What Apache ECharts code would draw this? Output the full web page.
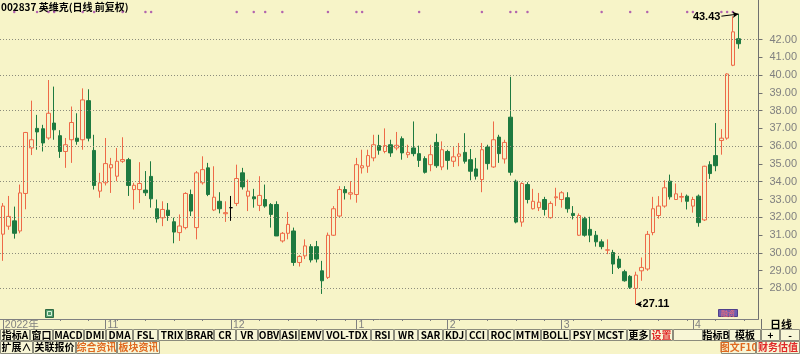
<!DOCTYPE html>
<html>
<head>
<meta charset="utf-8">
<script src="https://cdn.jsdelivr.net/npm/echarts@6/dist/echarts.min.js"></script>
<style>
  html, body { margin: 0; padding: 0; background: #F7F4C8; }
  #chart { width: 800px; height: 354px; }
</style>
</head>
<body>
<div id="chart"></div>
<script>
// 日线 K 线: [开, 收, 低, 高]
const candles = [
  [31.05, 32.63, 29.55, 32.80], [31.50, 32.05, 31.30, 33.20], [31.80, 31.10, 30.80, 32.60], [31.23, 33.37, 31.10, 33.84],
  [33.34, 36.77, 32.45, 36.80], [35.90, 36.36, 35.50, 38.56], [37.00, 36.80, 35.80, 37.76], [36.98, 36.18, 35.70, 37.20],
  [36.46, 37.85, 36.36, 39.72], [37.30, 36.92, 36.36, 39.35], [36.59, 35.70, 35.34, 36.90], [35.70, 36.08, 34.78, 36.46],
  [36.36, 37.33, 35.06, 38.23], [36.45, 36.27, 36.08, 37.85], [36.36, 38.60, 35.80, 39.25], [38.56, 36.45, 36.27, 39.20],
  [35.76, 33.79, 33.56, 36.64], [33.47, 33.94, 33.10, 34.50], [33.94, 35.02, 33.79, 36.46], [34.78, 34.96, 33.37, 35.34],
  [34.31, 35.15, 34.03, 35.90], [35.15, 35.25, 35.06, 36.50], [35.24, 33.79, 33.20, 35.34], [33.56, 33.80, 32.44, 33.94],
  [33.56, 33.90, 32.80, 35.10], [33.53, 33.38, 33.20, 34.60], [34.30, 33.04, 32.54, 35.15], [32.48, 31.92, 31.70, 33.00],
  [31.97, 32.44, 31.50, 32.90], [32.40, 32.10, 31.80, 32.80], [31.75, 31.17, 30.54, 31.98], [31.14, 31.51, 30.67, 32.16],
  [31.42, 33.34, 31.32, 33.41], [33.28, 32.35, 32.07, 33.56], [31.42, 34.50, 30.76, 34.60], [33.94, 34.68, 33.84, 35.43],
  [34.78, 33.28, 33.19, 35.06], [32.41, 33.13, 32.35, 34.87], [32.90, 32.48, 32.22, 33.41], [32.20, 32.26, 31.74, 32.90],
  [32.54, 32.54, 31.80, 33.20], [32.78, 34.18, 32.63, 34.96], [34.50, 33.71, 33.56, 34.78], [33.19, 33.47, 32.35, 34.12],
  [33.15, 33.04, 32.54, 33.60], [32.67, 33.23, 32.35, 34.31], [33.00, 32.63, 32.54, 33.84], [32.72, 32.16, 31.42, 32.80],
  [32.72, 30.95, 30.95, 32.90], [30.67, 31.10, 30.58, 31.17], [31.10, 31.60, 30.76, 32.30], [31.23, 29.46, 29.27, 31.42],
  [29.46, 29.80, 29.23, 29.87], [29.83, 30.39, 29.65, 30.76], [30.35, 29.60, 29.46, 30.49], [30.35, 29.65, 29.46, 30.67],
  [28.99, 28.43, 27.69, 29.55], [28.62, 30.99, 28.53, 31.14], [30.99, 32.48, 30.95, 32.63], [32.07, 33.56, 31.97, 33.75],
  [33.56, 33.38, 33.00, 33.75], [33.30, 33.38, 33.00, 34.03], [33.28, 34.96, 32.82, 35.34], [34.78, 34.90, 34.46, 35.80],
  [34.87, 35.47, 34.50, 35.80], [35.34, 36.08, 35.15, 36.64], [36.03, 35.77, 35.52, 36.64], [35.70, 36.03, 35.60, 37.00],
  [36.08, 35.62, 35.40, 36.36], [35.90, 36.05, 35.77, 36.80], [36.42, 35.62, 35.24, 36.55], [35.52, 35.65, 35.34, 36.08],
  [35.90, 35.58, 35.43, 37.39], [35.58, 35.20, 34.83, 36.03], [35.30, 34.53, 34.46, 35.43], [34.96, 35.52, 34.59, 36.08],
  [36.21, 34.90, 34.78, 36.70], [34.83, 35.80, 34.65, 36.27], [35.70, 35.20, 34.68, 35.80], [35.15, 35.40, 34.83, 35.95],
  [35.43, 35.56, 34.87, 36.18], [35.65, 35.15, 35.02, 36.73], [35.24, 34.59, 34.08, 35.84], [34.72, 34.31, 34.12, 35.34],
  [34.12, 35.80, 33.41, 36.18], [35.95, 35.02, 34.68, 36.08], [34.83, 36.36, 34.78, 37.39], [36.51, 35.58, 35.06, 36.64],
  [35.28, 36.21, 35.02, 36.36], [37.63, 34.53, 34.35, 39.90], [34.03, 31.73, 31.66, 34.12], [31.73, 33.90, 31.47, 33.97],
  [33.84, 33.00, 32.78, 33.97], [32.48, 32.90, 32.44, 33.60], [32.54, 32.85, 32.35, 33.37], [33.00, 32.44, 32.10, 33.15],
  [31.98, 32.78, 31.92, 32.90], [33.10, 33.15, 32.63, 33.66], [33.00, 33.38, 32.54, 33.47], [33.10, 32.48, 32.26, 33.41],
  [32.22, 32.10, 31.88, 32.63], [30.99, 32.10, 30.95, 32.22], [31.92, 30.99, 30.91, 32.03], [31.32, 30.99, 30.60, 32.03],
  [30.99, 30.62, 30.35, 31.23], [30.62, 30.35, 30.20, 30.76], [30.15, 30.17, 29.93, 30.76], [30.02, 29.37, 28.81, 30.17],
  [29.65, 29.18, 29.09, 29.83], [28.94, 28.43, 28.38, 29.05], [28.68, 28.06, 27.97, 28.75], [28.00, 28.75, 27.11, 28.94],
  [28.99, 29.18, 28.43, 29.74], [29.09, 31.04, 28.99, 31.23], [31.14, 32.48, 30.99, 33.15], [32.10, 32.63, 31.92, 33.19],
  [32.63, 33.66, 32.54, 34.08], [34.03, 33.15, 33.00, 34.40], [33.00, 33.32, 32.97, 33.90], [33.13, 33.17, 32.85, 33.38],
  [33.19, 32.90, 32.44, 33.28], [32.63, 33.00, 32.26, 33.15], [33.19, 31.70, 31.47, 33.28], [31.85, 34.87, 31.79, 34.90],
  [34.96, 34.46, 34.16, 35.15], [35.47, 34.90, 34.59, 37.30], [36.32, 36.45, 35.52, 36.96], [36.45, 40.06, 36.36, 40.10],
  [40.55, 42.43, 40.50, 43.30], [42.04, 41.76, 41.48, 43.43]
];

// 平盘十字线（黑色）
const blackDoji = [40];

// 月份分隔
const monthStartIdx = [0, 18, 40, 62, 78, 98, 121];
const monthLabels = ['2022年', '11', '12', '1', '2', '3', '4'];

// 顶部信息地雷
const mineIdx = [2, 6, 8, 9, 14, 16, 21, 25, 26, 41, 44, 46, 49, 57, 62, 63, 73, 84, 89, 90, 92,
                 105, 110, 113, 120, 121, 126, 127, 128];

// 右侧价格刻度
const priceTicks = [28, 29, 30, 31, 32, 33, 34, 35, 36, 37, 38, 39, 40, 41, 42];
const gridPrices = [28, 30, 32, 34, 36, 38, 40, 42];

const emptySlots = 3;
const yMin = 26.28;
const yMax = 44.22;
const mineRow = 43.55;

const BG = '#F7F4C8';
const UP = '#EE6A48';
const DOWN = '#1E7A40';
const FONT = '"Liberation Sans", "Noto Sans CJK SC", sans-serif';
const BTN_FONT = 'bold 10px "Noto Sans CJK SC", sans-serif';

const categories = Array.from({ length: candles.length + emptySlots }, (_, i) => i);

// 最高 / 最低
let hiIdx = 0, loIdx = 0;
candles.forEach((c, i) => {
  if (c[3] > candles[hiIdx][3]) hiIdx = i;
  if (c[2] < candles[loIdx][2]) loIdx = i;
});
const hiVal = candles[hiIdx][3];
const loVal = candles[loIdx][2];

const kData = candles.map((c, i) => {
  if (blackDoji.includes(i)) {
    return {
      value: c,
      itemStyle: { color: '#000', color0: '#000', borderColor: '#000', borderColor0: '#000', borderColorDoji: '#000' }
    };
  }
  return c;
});

// 底部按钮条
const btnRowA = [
  ['指标A', 0, 30], ['窗口', 30, 23], ['MACD', 53, 31], ['DMI', 84, 22], ['DMA', 106, 27], ['FSL', 133, 25],
  ['TRIX', 158, 28], ['BRAR', 186, 28], ['CR', 214, 22], ['VR', 236, 22], ['OBV', 258, 22], ['ASI', 280, 19],
  ['EMV', 299, 24], ['VOL-TDX', 323, 48], ['RSI', 371, 23], ['WR', 394, 24], ['SAR', 418, 25], ['KDJ', 443, 23],
  ['CCI', 466, 22], ['ROC', 488, 26], ['MTM', 514, 27], ['BOLL', 541, 29], ['PSY', 570, 24], ['MCST', 594, 33],
  ['更多', 627, 23], ['设置', 650, 23], ['', 673, 30], ['指标B', 703, 26], ['模板', 729, 32],
  ['+', 761, 19], ['-', 780, 20]
];
const btnRowB = [
  ['扩展∧', 0, 33, '#000'], ['关联报价', 33, 43, '#000'], ['综合资讯', 76, 41, '#E06A20'], ['板块资讯', 117, 43, '#E06A20'],
  ['图文F10', 721, 35, '#E06A20'], ['财务估值', 756, 44, '#E02828']
];

const graphics = [];
// 标题
graphics.push({
  type: 'text', left: 1, top: 2, silent: true,
  style: { text: '002837 英维克(日线 前复权)', fill: '#000', font: 'bold 10px "Noto Sans CJK SC", sans-serif' }
});
// 右栏竖线与 日线
graphics.push({ type: 'line', silent: true, shape: { x1: 761.5, y1: 319, x2: 761.5, y2: 329 }, style: { stroke: '#707070', lineWidth: 1 } });
graphics.push({
  type: 'text', left: 770, top: 319, silent: true,
  style: { text: '日线', fill: '#000', font: 'bold 11px "Noto Sans CJK SC", sans-serif' }
});
btnRowA.forEach(([t, x, w]) => {
  graphics.push({
    type: 'rect', silent: true,
    shape: { x: x + 0.5, y: 329.5, width: w - 1, height: 11 },
    style: { fill: '#F8F6D6', stroke: '#8C8C7C', lineWidth: 1 }
  });
  if (t) {
    graphics.push({
      type: 'text', silent: true, x: x + w / 2, y: 335,
      style: {
        text: t, fill: t === '设置' ? '#E02828' : '#000', align: 'center', verticalAlign: 'middle', font: BTN_FONT
      }
    });
  }
});
btnRowB.forEach(([t, x, w, c]) => {
  graphics.push({
    type: 'rect', silent: true,
    shape: { x: x + 0.5, y: 341.5, width: w - 1, height: 12 },
    style: { fill: '#F8F6D6', stroke: '#8C8C7C', lineWidth: 1 }
  });
  graphics.push({
    type: 'text', silent: true, x: x + w / 2, y: 347.5,
    style: { text: t, fill: c, align: 'center', verticalAlign: 'middle', font: BTN_FONT }
  });
});
// 小图标
graphics.push({ type: 'rect', silent: true, shape: { x: 45.5, y: 309.5, width: 8, height: 8 }, style: { fill: '#4E9A6A', stroke: '#2E6A44' } });
graphics.push({ type: 'rect', silent: true, shape: { x: 47.5, y: 311.5, width: 4, height: 4 }, style: { fill: 'none', stroke: '#D8F0D8' } });
graphics.push({ type: 'rect', silent: true, shape: { x: 718.5, y: 309.5, width: 19, height: 7 }, style: { fill: '#6E5EB0', stroke: '#50408A' } });
graphics.push({
  type: 'text', silent: true, x: 728, y: 313,
  style: { text: '融资', fill: '#FF7070', align: 'center', verticalAlign: 'middle', font: '7px "Noto Sans CJK SC", sans-serif' }
});

const chart = echarts.init(document.getElementById('chart'));

chart.setOption({
  animation: false,
  backgroundColor: BG,
  grid: { left: -1, right: 39, top: 0, bottom: 35 },
  xAxis: [
    {
      type: 'category',
      data: categories,
      boundaryGap: true,
      axisLine: { show: true, lineStyle: { color: '#808080', width: 1 } },
      axisTick: {
        show: true, alignWithLabel: true, length: 10,
        interval: (i) => monthStartIdx.includes(i),
        lineStyle: { color: '#808080' }
      },
      axisLabel: {
        show: true, margin: 1, align: 'left', padding: [0, 0, 0, 2],
        interval: (i) => monthStartIdx.includes(i),
        formatter: (v, i) => monthLabels[monthStartIdx.indexOf(i)] || '',
        color: '#808080', fontSize: 10.5, fontFamily: FONT
      },
      splitLine: { show: false }
    },
    {
      type: 'category',
      data: categories,
      position: 'bottom',
      boundaryGap: true,
      axisLine: { show: false },
      axisTick: { show: true, alignWithLabel: true, length: 2, interval: 4, lineStyle: { color: '#808080' } },
      axisLabel: { show: false },
      splitLine: { show: false }
    }
  ],
  yAxis: {
    type: 'value',
    position: 'right',
    min: yMin,
    max: yMax,
    axisLine: { show: true, lineStyle: { color: '#707070', width: 1 } },
    axisTick: { show: true, length: 4, customValues: priceTicks, lineStyle: { color: '#707070' } },
    axisLabel: {
      show: true, margin: 11, customValues: priceTicks,
      formatter: (v) => v.toFixed(2),
      color: '#808080', fontSize: 11, fontFamily: FONT
    },
    splitLine: { show: false }
  },
  graphic: graphics,
  series: [
    {
      type: 'scatter',
      name: '地雷',
      z: 1,
      silent: true,
      symbol: 'circle',
      symbolSize: 2.5,
      itemStyle: { color: '#A040A8' },
      data: mineIdx.map((i) => [i, mineRow]),
      markLine: {
        silent: true,
        symbol: ['none', 'none'],
        label: { show: false },
        lineStyle: { color: '#8C8C7C', type: [1, 2], width: 1 },
        data: gridPrices.map((v) => ({ yAxis: v }))
      }
    },
    {
      type: 'candlestick',
      name: '英维克',
      z: 2,
      barWidth: 4,
      data: kData,
      itemStyle: {
        color: BG,
        color0: DOWN,
        borderColor: UP,
        borderColor0: DOWN,
        borderColorDoji: UP,
        borderWidth: 1
      },
      markLine: {
        silent: true,
        symbol: ['none', 'arrow'],
        symbolSize: [5, 6],
        label: { show: false },
        lineStyle: { color: '#000', type: 'solid', width: 1 },
        data: [
          [{ coord: [hiIdx - 3, hiVal - 0.12] }, { coord: [hiIdx, hiVal] }],
          [{ coord: [loIdx + 1.4, loVal] }, { coord: [loIdx, loVal] }]
        ]
      },
      markPoint: {
        silent: true,
        symbol: 'circle',
        symbolSize: 0,
        data: [
          {
            coord: [hiIdx - 3, hiVal],
            label: { show: true, position: 'left', distance: 1, offset: [0, 3], formatter: hiVal.toFixed(2),
                     color: '#000', fontSize: 11, fontWeight: 'bold', fontFamily: FONT }
          },
          {
            coord: [loIdx + 1.4, loVal],
            label: { show: true, position: 'right', distance: 1, formatter: loVal.toFixed(2),
                     color: '#000', fontSize: 11, fontWeight: 'bold', fontFamily: FONT }
          }
        ]
      }
    }
  ]
});
</script>
</body>
</html>
